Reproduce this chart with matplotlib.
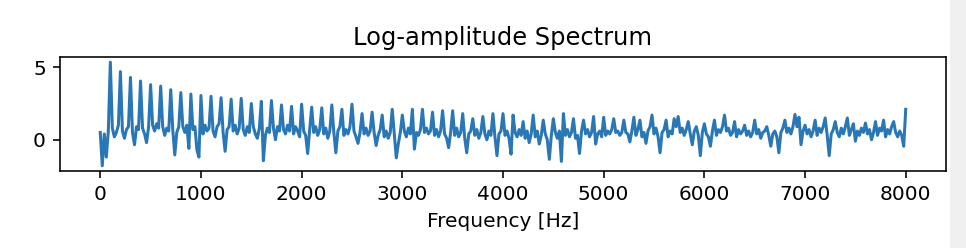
import matplotlib
matplotlib.use("Agg")
import matplotlib.pyplot as plt
import numpy as np

# frequency bins: 0..8000 Hz, 20 Hz apart
freq_step = 20
log_amp = [
    0.5, -1.8, 0.4, -1.2, 0.6, 5.35, 0.8, 0.2, 0.5, 1.0, 4.7, 0.6, 0.1, 0.7, 0.9, 4.3, 0.5, -0.35, 0.9, 0.7,
    4.05, 0.8, 0.4, -0.2, 0.9, 3.8, 1.0, 0.6, 1.1, 0.8, 3.7, 0.9, 0.3, 0.8, 0.6, 3.45, 0.7, -1.05, 0.5, 0.9,
    3.25, 0.9, 0.5, 1.0, -0.6, 3.15, 0.7, 0.9, -0.7, -1.2, 3.05, 0.4, 1.0, 0.6, 0.8, 3.0, 0.6, 0.2, 0.9, 1.1,
    2.9, 0.5, -0.8, 0.7, 0.9, 2.8, 0.6, 1.0, 0.4, 0.8, 2.85, 0.7, 0.3, 0.9, 0.5, 2.5, 0.9, 0.4, 0.1, 0.8,
    2.65, -1.45, 0.3, 0.8, 0.5, 2.7, 0.8, 0.0, 0.9, 0.6, 2.4, 0.7, 0.4, 1.0, 0.6, 2.3, 0.4, 0.9, 0.6, 0.2,
    2.45, 0.6, 0.3, -0.95, 0.7, 2.25, 0.5, 0.9, 0.3, 0.7, 2.2, 0.4, 0.8, 0.1, 0.6, 2.4, 0.5, -0.9, 0.6, 0.9,
    2.1, 0.3, 0.7, 0.4, 0.9, 2.45, 0.6, 0.2, -0.25, 0.5, 1.8, 0.4, 0.8, 0.3, 0.6, 1.9, 0.5, -0.4, 0.3, 0.7,
    1.7, 0.2, 0.6, 0.1, 0.5, 2.1, 0.4, -1.25, -0.3, 0.5, 1.7, 0.6, 0.2, 0.8, 0.4, 2.1, -0.65, 0.5, 0.3, 0.7,
    2.1, 0.5, 0.8, 0.4, 0.6, 1.9, 0.3, 0.7, 0.2, 0.6, 2.0, 0.4, 0.1, -0.55, 0.5, 2.0, 0.3, 0.8, 0.2, 0.5,
    1.8, 0.1, -0.9, 0.4, 0.6, 1.45, 0.3, 0.7, 0.1, 0.5, 1.6, 0.4, 0.0, 0.6, 0.3, 1.8, 0.2, -1.1, 0.4, 0.6,
    1.8, 0.3, 0.6, 0.1, -1.0, 1.7, 0.5, 0.2, 0.7, 0.3, 1.25, 0.1, 0.6, -0.2, 0.4, 1.7, 0.2, 0.6, -0.3, 0.3,
    1.35, 0.4, 0.0, -1.35, 0.3, 1.45, 0.5, 0.1, 0.6, -1.5, 1.8, 0.3, 0.7, 0.2, 0.5, 1.45, 0.1, 0.3, -0.95, 0.6,
    1.35, 0.4, 0.7, 0.2, 0.5, 1.6, -0.3, 0.4, 0.6, 0.2, 1.55, 0.3, 0.6, 0.4, 0.7, 1.45, 0.5, 0.6, 0.3, 0.5,
    1.35, 0.5, 0.4, -0.15, 0.6, 1.55, 0.3, 0.7, 1.35, 0.2, 0.5, -0.25, 0.6, 0.9, 1.7, 0.4, 0.8, 0.2, -0.9, 0.5,
    0.7, 1.35, 0.2, 0.6, 0.4, 1.45, 0.9, 1.6, 0.5, 0.8, 0.3, 0.7, 1.25, 0.4, -0.35, 0.6, 0.9, 0.3, -1.1, 0.5,
    1.1, 0.4, 0.2, -0.45, 0.6, 1.35, 0.3, 0.7, 0.5, 0.9, 1.7, 0.6, 0.8, 0.3, 0.5, 1.25, 0.2, 0.7, 0.4, 0.6,
    1.0, 0.3, 0.6, 0.2, 0.5, 1.35, 0.4, 0.7, 0.1, 0.5, 0.6, 0.9, 0.3, -0.45, 0.4, 0.6, 0.2, -0.9, 0.5, 0.8,
    1.35, 0.5, 0.8, 0.4, 0.9, 1.75, 0.9, 1.55, -0.35, 0.6, 1.0, 0.4, 0.7, 0.2, 0.6, 1.35, 0.3, 0.8, 0.5, 0.9,
    1.5, 0.3, -1.1, 0.4, 0.7, 1.25, 0.5, 0.2, 0.8, 0.4, 0.9, 1.5, 0.3, 0.7, 1.1, -0.1, 0.6, 0.3, 0.8, 0.5,
    1.15, 0.4, 0.7, 0.0, 0.5, 1.25, 0.3, 0.8, 0.6, 1.35, 0.2, 0.7, 0.4, 0.9, 1.25, 0.5, 0.2, 0.6, 0.3, -0.45,
    2.1,
]
freqs = np.arange(len(log_amp)) * freq_step

# the screenshot looks like a default figure shown at ~1.45x, so use dpi 145
dpi = 145
fig = plt.figure(figsize=(966 / dpi, 248 / dpi), dpi=dpi)
ax = fig.add_axes([0.0621, 0.3105, 0.9172, 0.4597])
ax.plot(freqs, log_amp, color="#2a77b6", linewidth=1.5)
ax.set_title("Log-amplitude Spectrum")
ax.set_xlabel("Frequency [Hz]")
ax.set_xticks(range(0, 8001, 1000))
ax.set_yticks([0, 5])

# light grey strip on the right edge (scrollbar in the screenshot)
fig.patches.append(plt.Rectangle((0.984, 0), 0.016, 1, transform=fig.transFigure,
                                 color="#f0f0f0", zorder=-1))

fig.savefig("out.png", dpi=dpi)
